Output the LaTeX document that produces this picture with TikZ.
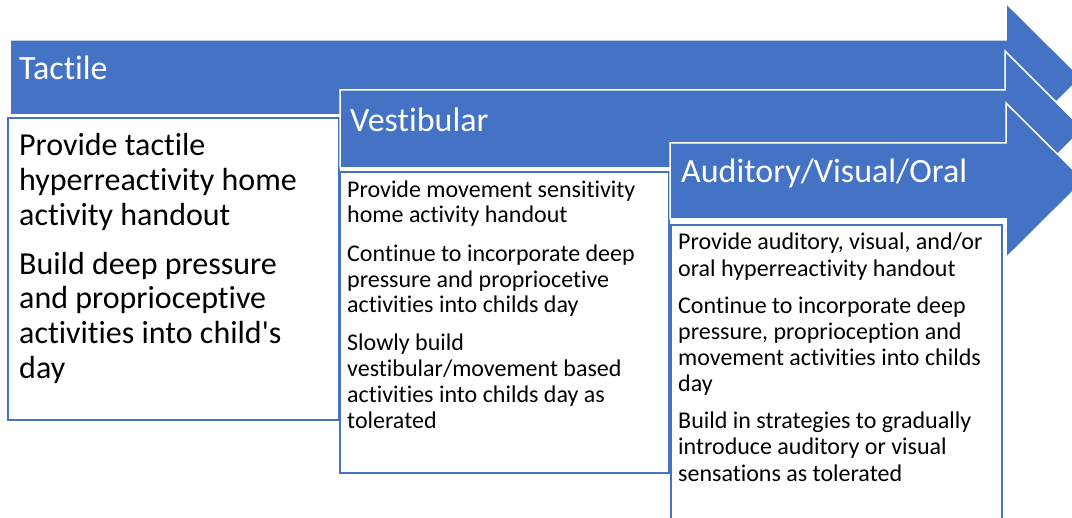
\documentclass[tikz,border=0pt]{standalone}
\usepackage{fontspec}
\setmainfont{Carlito}[Ligatures={TeXOff,NoCommon,NoContextual,NoRequired,NoRare}, Contextuals=NoAlternate]
\definecolor{ofblue}{HTML}{4472C4}
\tikzset{
  arrowshape/.style={fill=ofblue, draw=white, line width=1.5pt, line join=miter},
  textbox/.style={fill=white, draw=ofblue, line width=2pt},
  header/.style={text=white, font=\fontsize{34}{40}\selectfont, anchor=base west, inner sep=0pt},
  bigtext/.style={text=black, font=\fontsize{32}{35}\selectfont, anchor=base west, inner sep=0pt},
  smalltext/.style={text=black, font=\fontsize{24}{26}\selectfont, anchor=base west, inner sep=0pt}
}
\begin{document}
\begin{tikzpicture}[x=1pt,y=-1pt]
\useasboundingbox (0,0) rectangle (1072,518);
\clip (0,0) rectangle (1072,518);
% Arrow 1
\draw[arrowshape] (10,40) -- (1006,40) -- (1006,3) -- (1081,77.5) -- (1006,152) -- (1006,115) -- (10,115) -- cycle;
\node[header] (h1) at (19,80) {Tactile};
% Box 1
\draw[textbox] (8,118) rectangle (339,420);
\foreach \yy/\txt [count=\i] in {156/{Provide tactile}, 191/{hyperreactivity home}, 226/{activity handout},
  275/{Build deep pressure}, 309/{and proprioceptive}, 344/{activities into child's}, 379/{day}}
  \node[bigtext] (a\i) at (19,\yy) {\txt};
% Arrow 2
\draw[arrowshape] (340,90) -- (1005,90) -- (1005,51) -- (1083,129) -- (1005,207) -- (1005,168) -- (340,168) -- cycle;
\node[header] (h2) at (350,132) {Vestibular};
% Box 2
\draw[textbox] (340,172) rectangle (669,473);
\foreach \yy/\txt [count=\i] in {198/{Provide movement sensitivity}, 223/{home activity handout},
  262/{Continue to incorporate deep}, 288/{pressure and propriocetive}, 313/{activities into childs day},
  351/{Slowly build}, 377/{vestibular/movement based}, 403/{activities into childs day as}, 429/{tolerated}}
  \node[smalltext] (b\i) at (347,\yy) {\txt};
% Arrow 3
\draw[arrowshape] (670,143) -- (1006,143) -- (1006,103) -- (1084,180.5) -- (1006,258) -- (1006,219) -- (670,219) -- cycle;
\node[header] (h3) at (681,183) {Auditory/Visual/Oral};
% Box 3
\draw[textbox] (671,225) rectangle (1002,540);
\foreach \yy/\txt [count=\i] in {250/{Provide auditory, visual, and/or}, 277/{oral hyperreactivity handout},
  314/{Continue to incorporate deep}, 340/{pressure, proprioception and}, 366/{movement activities into childs}, 392/{day},
  429/{Build in strategies to gradually}, 455/{introduce auditory or visual}, 482/{sensations as tolerated}}
  \node[smalltext] (c\i) at (678,\yy) {\txt};
\end{tikzpicture}
\end{document}
